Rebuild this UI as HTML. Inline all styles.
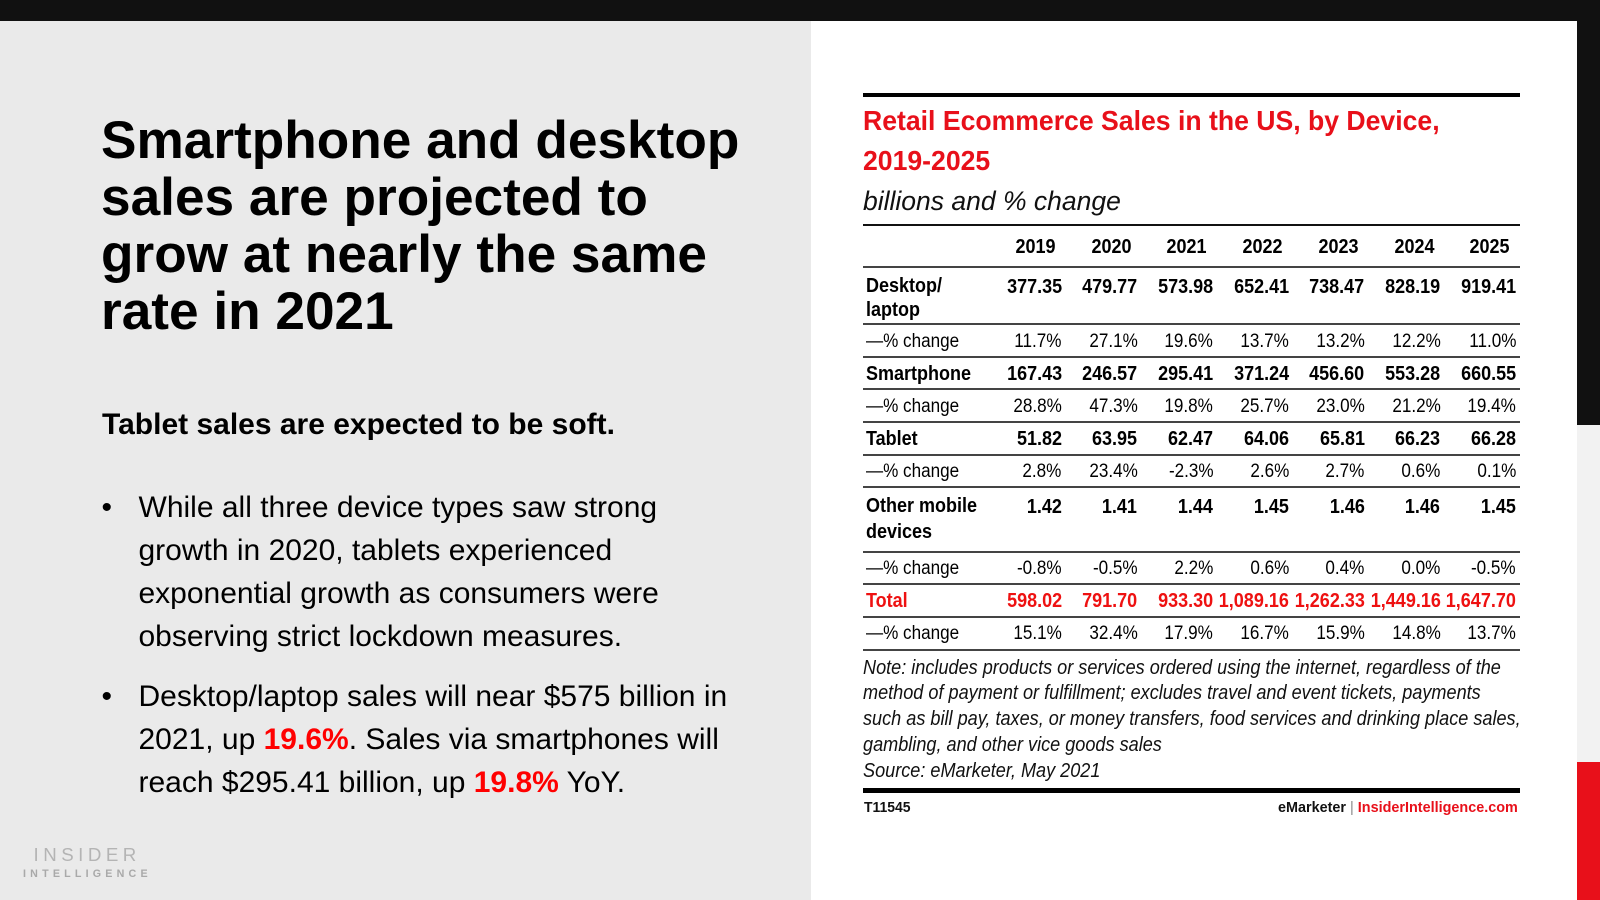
<!DOCTYPE html>
<html>
<head>
<meta charset="utf-8">
<style>
*{margin:0;padding:0;box-sizing:border-box;}
html,body{width:1600px;height:900px;overflow:hidden;background:#fff;}
body{position:relative;font-family:"Liberation Sans",Arial,sans-serif;color:#000;}
.abs{position:absolute;white-space:nowrap;}
#topbar{position:absolute;left:0;top:0;width:1600px;height:21px;background:#111;}
#left{position:absolute;left:0;top:21px;width:811px;height:879px;background:#eaeaea;}
#white{position:absolute;left:811px;top:21px;width:766px;height:879px;background:#fff;}
#rs1{position:absolute;left:1577px;top:0;width:23px;height:425px;background:#111;}
#rs2{position:absolute;left:1577px;top:425px;width:23px;height:337px;background:#f2f2f2;}
#rs3{position:absolute;left:1577px;top:762px;width:23px;height:138px;background:#e8101a;}

.h1{left:101px;top:112px;font-size:53.2px;line-height:57px;font-weight:bold;color:#000;}
.sub{left:102px;top:406.5px;font-size:30px;line-height:36px;font-weight:bold;color:#000;}
.bl{left:138.5px;font-size:30px;line-height:43px;color:#000;}
.dot{left:101.5px;font-size:30px;line-height:43px;color:#000;}
.red{color:#ff0000;font-weight:bold;}
.logo1{left:33.5px;top:845px;font-size:18.7px;line-height:20px;letter-spacing:4.5px;color:#b4b4b4;}
.logo2{left:23px;top:867.5px;font-size:10.7px;line-height:12px;letter-spacing:4.2px;color:#a9a9a9;font-weight:bold;}

.rule{position:absolute;left:863px;width:657px;background:#444;height:2px;}
.ttl{left:863px;font-size:28px;line-height:40px;font-weight:bold;color:#e8101a;transform:scaleX(.95);transform-origin:left top;}
.stl{left:863px;top:188px;font-size:26.5px;line-height:26px;font-style:italic;color:#111;}
.row{position:absolute;left:0;width:1600px;height:20px;line-height:20px;}
.row span{position:absolute;white-space:nowrap;transform:scaleX(.9);transform-origin:right center;top:0;}
.row span.lab{left:866px;transform-origin:left center;}
.b span{font-weight:bold;font-size:20px;}
.p span{font-size:19px;}
.t span{color:#ee1111;}
.c1{right:538.3px;}.c2{right:462.6px;}.c3{right:386.8px;}.c4{right:311.1px;}.c5{right:235.4px;}.c6{right:159.6px;}.c7{right:83.9px;}
.y span.c1{right:544.7px;}.y span.c2{right:469px;}.y span.c3{right:393.2px;}.y span.c4{right:317.5px;}.y span.c5{right:241.8px;}.y span.c6{right:166px;}.y span.c7{right:90.3px;}
.lab2{left:866px;font-size:20px;font-weight:bold;transform:scaleX(.9);transform-origin:left top;}
.note{left:863px;top:655.6px;font-size:20px;line-height:25.8px;font-style:italic;color:#111;transform:scaleX(.905);transform-origin:left top;}
.foot{top:800px;font-size:15px;line-height:15px;font-weight:bold;}
</style>
</head>
<body>
<div id="topbar"></div>
<div id="left"></div>
<div id="white"></div>
<div id="rs1"></div><div id="rs2"></div><div id="rs3"></div>

<!-- Left panel -->
<div class="abs h1">Smartphone and desktop<br>sales are projected to<br>grow at nearly the same<br>rate in 2021</div>
<div class="abs sub">Tablet sales are expected to be soft.</div>

<div class="abs dot" style="top:485.6px;">•</div>
<div class="abs bl" style="top:485.6px;">While all three device types saw strong<br>growth in 2020, tablets experienced<br>exponential growth as consumers were<br>observing strict lockdown measures.</div>

<div class="abs dot" style="top:674.5px;">•</div>
<div class="abs bl" style="top:674.5px;">Desktop/laptop sales will near $575 billion in<br>2021, up <span class="red">19.6%</span>. Sales via smartphones will<br>reach $295.41 billion, up <span class="red">19.8%</span> YoY.</div>

<div class="abs logo1">INSIDER</div>
<div class="abs logo2">INTELLIGENCE</div>

<!-- Right panel chart -->
<div class="rule" style="top:93px;height:4px;background:#000;"></div>
<div class="abs ttl" style="top:100.8px;">Retail Ecommerce Sales in the US, by Device,<br>2019-2025</div>
<div class="abs stl">billions and % change</div>

<div class="rule" style="top:224px;height:2px;background:#111;"></div>

<div class="row b y" style="top:237.1px;"><span class="c1">2019</span><span class="c2">2020</span><span class="c3">2021</span><span class="c4">2022</span><span class="c5">2023</span><span class="c6">2024</span><span class="c7">2025</span></div>
<div class="rule" style="top:266px;"></div>

<div class="abs lab2" style="top:275.2px;line-height:23.4px;">Desktop/<br>laptop</div>
<div class="row b" style="top:277px;"><span class="c1">377.35</span><span class="c2">479.77</span><span class="c3">573.98</span><span class="c4">652.41</span><span class="c5">738.47</span><span class="c6">828.19</span><span class="c7">919.41</span></div>
<div class="rule" style="top:323px;"></div>

<div class="row p" style="top:331.5px;"><span class="lab">—% change</span><span class="c1">11.7%</span><span class="c2">27.1%</span><span class="c3">19.6%</span><span class="c4">13.7%</span><span class="c5">13.2%</span><span class="c6">12.2%</span><span class="c7">11.0%</span></div>
<div class="rule" style="top:356px;"></div>

<div class="row b" style="top:363.6px;"><span class="lab">Smartphone</span><span class="c1">167.43</span><span class="c2">246.57</span><span class="c3">295.41</span><span class="c4">371.24</span><span class="c5">456.60</span><span class="c6">553.28</span><span class="c7">660.55</span></div>
<div class="rule" style="top:388px;"></div>

<div class="row p" style="top:396.6px;"><span class="lab">—% change</span><span class="c1">28.8%</span><span class="c2">47.3%</span><span class="c3">19.8%</span><span class="c4">25.7%</span><span class="c5">23.0%</span><span class="c6">21.2%</span><span class="c7">19.4%</span></div>
<div class="rule" style="top:421px;"></div>

<div class="row b" style="top:429.3px;"><span class="lab">Tablet</span><span class="c1">51.82</span><span class="c2">63.95</span><span class="c3">62.47</span><span class="c4">64.06</span><span class="c5">65.81</span><span class="c6">66.23</span><span class="c7">66.28</span></div>
<div class="rule" style="top:454px;"></div>

<div class="row p" style="top:462px;"><span class="lab">—% change</span><span class="c1">2.8%</span><span class="c2">23.4%</span><span class="c3">-2.3%</span><span class="c4">2.6%</span><span class="c5">2.7%</span><span class="c6">0.6%</span><span class="c7">0.1%</span></div>
<div class="rule" style="top:486px;"></div>

<div class="abs lab2" style="top:494.3px;line-height:25.2px;">Other mobile<br>devices</div>
<div class="row b" style="top:497px;"><span class="c1">1.42</span><span class="c2">1.41</span><span class="c3">1.44</span><span class="c4">1.45</span><span class="c5">1.46</span><span class="c6">1.46</span><span class="c7">1.45</span></div>
<div class="rule" style="top:551px;"></div>

<div class="row p" style="top:558.6px;"><span class="lab">—% change</span><span class="c1">-0.8%</span><span class="c2">-0.5%</span><span class="c3">2.2%</span><span class="c4">0.6%</span><span class="c5">0.4%</span><span class="c6">0.0%</span><span class="c7">-0.5%</span></div>
<div class="rule" style="top:583px;"></div>

<div class="row b t" style="top:590.8px;"><span class="lab">Total</span><span class="c1">598.02</span><span class="c2">791.70</span><span class="c3">933.30</span><span class="c4">1,089.16</span><span class="c5">1,262.33</span><span class="c6">1,449.16</span><span class="c7">1,647.70</span></div>
<div class="rule" style="top:616px;"></div>

<div class="row p" style="top:623.6px;"><span class="lab">—% change</span><span class="c1">15.1%</span><span class="c2">32.4%</span><span class="c3">17.9%</span><span class="c4">16.7%</span><span class="c5">15.9%</span><span class="c6">14.8%</span><span class="c7">13.7%</span></div>
<div class="rule" style="top:649px;"></div>

<div class="abs note">Note: includes products or services ordered using the internet, regardless of the<br>method of payment or fulfillment; excludes travel and event tickets, payments<br>such as bill pay, taxes, or money transfers, food services and drinking place sales,<br>gambling, and other vice goods sales<br>Source: eMarketer, May 2021</div>

<div class="rule" style="top:788px;height:5px;background:#000;"></div>
<div class="abs foot" style="left:864px;transform:scaleX(.93);transform-origin:left top;color:#111;">T11545</div>
<div class="abs foot" style="right:81.7px;transform:scaleX(.96);transform-origin:right top;color:#111;">eMarketer <span style="font-weight:normal;color:#888;">|</span> <span style="color:#e8101a;">InsiderIntelligence.com</span></div>
</body>
</html>
